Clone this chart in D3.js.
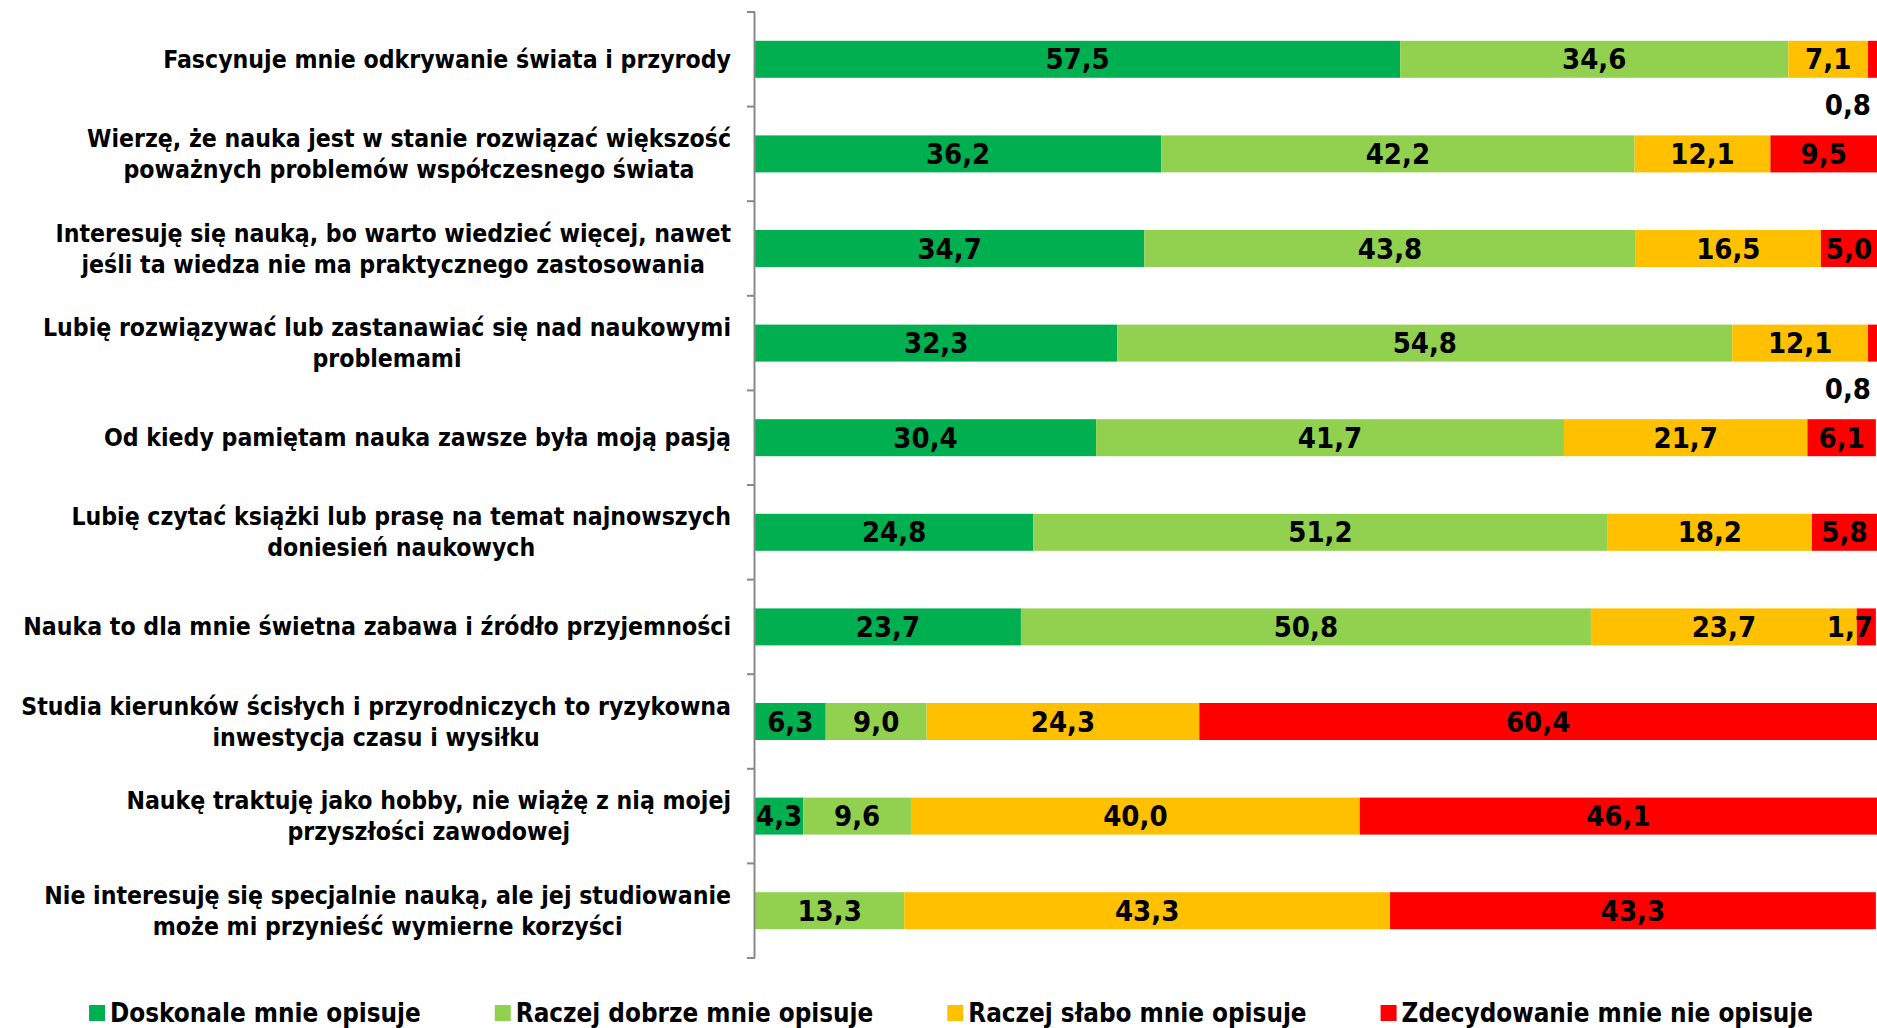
<!DOCTYPE html>
<html>
<head>
<meta charset="utf-8">
<script src="https://cdn.jsdelivr.net/npm/d3@7/dist/d3.min.js"></script>
<style>
  html, body { margin: 0; padding: 0; background: #fff; }
  svg { display: block; }
  text { font-family: "DejaVu Sans Condensed", "DejaVu Sans", sans-serif; font-stretch: condensed; font-weight: bold; fill: #000; }
</style>
</head>
<body>
<svg id="chart" width="1877" height="1028"></svg>
<script>
const categories = [
  ["Fascynuje mnie odkrywanie świata i przyrody"],
  ["Wierzę, że nauka jest w stanie rozwiązać większość", "poważnych problemów współczesnego świata"],
  ["Interesuję się nauką, bo warto wiedzieć więcej, nawet", "jeśli ta wiedza nie ma praktycznego zastosowania"],
  ["Lubię rozwiązywać lub zastanawiać się nad naukowymi", "problemami"],
  ["Od kiedy pamiętam nauka zawsze była moją pasją"],
  ["Lubię czytać książki lub prasę na temat najnowszych", "doniesień naukowych"],
  ["Nauka to dla mnie świetna zabawa i źródło przyjemności"],
  ["Studia kierunków ścisłych i przyrodniczych to ryzykowna", "inwestycja czasu i wysiłku"],
  ["Naukę traktuję jako hobby, nie wiążę z nią mojej", "przyszłości zawodowej"],
  ["Nie interesuję się specjalnie nauką, ale jej studiowanie", "może mi przynieść wymierne korzyści"]
];
const seriesNames = ["Doskonale mnie opisuje", "Raczej dobrze mnie opisuje", "Raczej słabo mnie opisuje", "Zdecydowanie mnie nie opisuje"];
const doskonale    = [57.5, 36.2, 34.7, 32.3, 30.4, 24.8, 23.7, 6.3, 4.3, 0];
const raczejDobrze = [34.6, 42.2, 43.8, 54.8, 41.7, 51.2, 50.8, 9.0, 9.6, 13.3];
const raczejSlabo  = [7.1, 12.1, 16.5, 12.1, 21.7, 18.2, 23.7, 24.3, 40.0, 43.3];
const zdecydowanie = [0.8, 9.5, 5.0, 0.8, 6.1, 5.8, 1.7, 60.4, 46.1, 43.3];
const colors = ["#00B050", "#92D050", "#FFC000", "#FF0000"];

const W = 1877, H = 1028;
const axisX = 755, plotTop = 12, plotBottom = 958;
const svg = d3.select("#chart");

const idx = d3.range(categories.length);
const y = d3.scaleBand().domain(idx).range([plotTop, plotBottom]).paddingInner(0.609).paddingOuter(0.3045);
const x = d3.scaleLinear().domain([0, 100]).range([axisX, W]);
const color = d3.scaleOrdinal().domain(seriesNames).range(colors);

const rows = idx.map(i => ({
  i,
  [seriesNames[0]]: doskonale[i],
  [seriesNames[1]]: raczejDobrze[i],
  [seriesNames[2]]: raczejSlabo[i],
  [seriesNames[3]]: zdecydowanie[i]
}));
const stacked = d3.stack().keys(seriesNames)(rows);

// bars
const gBars = svg.append("g");
stacked.forEach(layer => {
  gBars.selectAll(null).data(layer).enter().append("rect")
    .attr("x", d => x(d[0]))
    .attr("y", d => y(d.data.i))
    .attr("width", d => Math.max(0, x(d[1]) - x(d[0])))
    .attr("height", y.bandwidth())
    .attr("fill", color(layer.key));
});

// axis line and ticks
const gAxis = svg.append("g");
gAxis.append("line").attr("x1", axisX - 0.5).attr("x2", axisX - 0.5).attr("y1", plotTop).attr("y2", plotBottom)
  .attr("stroke", "#898989").attr("stroke-width", 2);
d3.range(categories.length + 1).forEach(k => {
  const yy = plotTop + k * y.step();
  gAxis.append("line").attr("x1", axisX - 8).attr("x2", axisX).attr("y1", yy).attr("y2", yy)
    .attr("stroke", "#898989").attr("stroke-width", 2);
});

// category labels
const labelRight = 731, lineH = 31;
idx.forEach(i => {
  const lines = categories[i];
  const cy = y(i) + y.bandwidth() / 2;
  const g = svg.append("g");
  const ts = lines.map((ln, k) => g.append("text")
    .attr("y", cy + (k - (lines.length - 1) / 2) * lineH)
    .attr("dominant-baseline", "central")
    .attr("text-anchor", "middle")
    .style("font-size", "24.6px")
    .text(ln));
  const maxW = d3.max(ts, t => t.node().getComputedTextLength());
  ts.forEach(t => t.attr("x", labelRight - maxW / 2));
});

// value labels
const fmt = v => d3.format(".1f")(v).replace(".", ",");
const gLab = svg.append("g");
stacked.forEach(layer => {
  layer.forEach(d => {
    const v = d[1] - d[0];
    if (v <= 0) return;
    const cy = y(d.data.i) + y.bandwidth() / 2;
    const t = gLab.append("text")
      .attr("dominant-baseline", "central")
      .attr("text-anchor", "middle")
      .style("font-size", "29px")
      .text(fmt(v));
    const tw = t.node().getComputedTextLength();
    let cx = (x(d[0]) + x(d[1])) / 2;
    let yy = cy;
    if (v < 1) {
      yy = cy + 46;
      cx = W - 6 - tw / 2;
    } else {
      cx = Math.min(cx, W - 4 - tw / 2);
    }
    t.attr("x", cx).attr("y", yy);
  });
});

// legend
const legend = svg.append("g");
const legY = 1013, sq = 16, gapTxt = 5, gapItem = 74;
const items = seriesNames.map(name => {
  const g = legend.append("g");
  g.append("rect").attr("x", 0).attr("y", legY - sq / 2).attr("width", sq).attr("height", sq).attr("fill", color(name));
  const t = g.append("text").attr("x", sq + gapTxt).attr("y", legY).attr("dominant-baseline", "central")
    .style("font-size", "25.8px").text(name);
  const w = sq + gapTxt + t.node().getComputedTextLength();
  return { g, w };
});
const total = d3.sum(items, d => d.w) + gapItem * (items.length - 1);
let lx = 951 - total / 2;
items.forEach(it => { it.g.attr("transform", `translate(${lx},0)`); lx += it.w + gapItem; });
</script>
</body>
</html>
